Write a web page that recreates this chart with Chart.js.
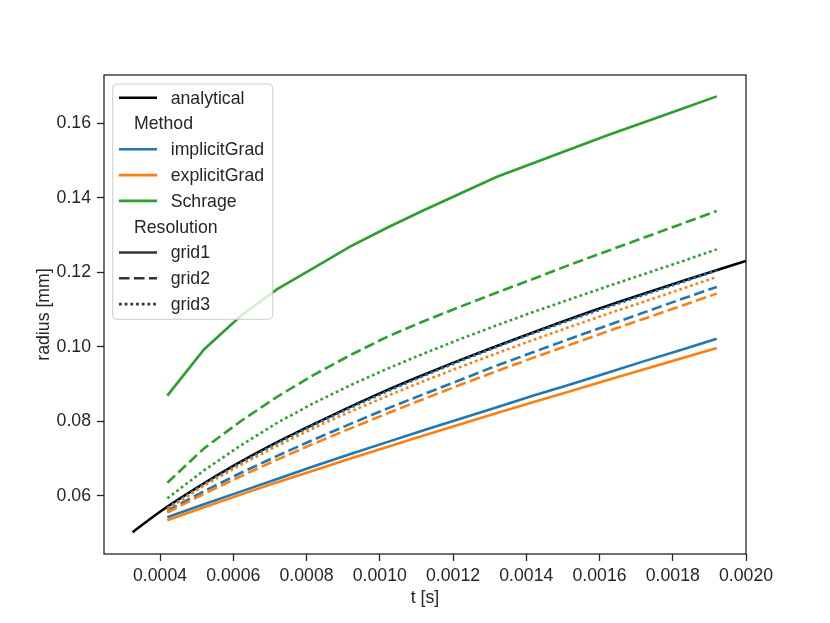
<!DOCTYPE html>
<html>
<head>
<meta charset="utf-8">
<script src="https://cdn.jsdelivr.net/npm/chart.js@4"></script>
<style>
  body { margin: 0; background: #fff; }
  canvas { display: block; }
</style>
</head>
<body>
<canvas id="chart" width="830" height="623"></canvas>
<script>
// time samples of the simulations [s]
var tSim = [0.00042, 0.00052, 0.00062, 0.00072, 0.00082, 0.00092, 0.00102, 0.00112,
            0.00122, 0.00132, 0.00142, 0.00152, 0.00162, 0.00172, 0.00182, 0.00192];

// implicitGrad
var implicitGrid1 = [0.0542, 0.0577, 0.0611, 0.0645, 0.0679, 0.0712, 0.0744, 0.0776,
                     0.0807, 0.0838, 0.0869, 0.0899, 0.0930, 0.0961, 0.0991, 0.1022];
var implicitGrid2 = [0.0560, 0.0612, 0.0661, 0.0707, 0.0751, 0.0793, 0.0834, 0.0873,
                     0.0911, 0.0950, 0.0986, 0.1022, 0.1057, 0.1092, 0.1127, 0.1161];
var implicitGrid3 = [0.0567, 0.0631, 0.0688, 0.0741, 0.0790, 0.0836, 0.0880, 0.0922,
                     0.0962, 0.1000, 0.1037, 0.1072, 0.1106, 0.1139, 0.1172, 0.1205];
// explicitGrad
var explicitGrid1 = [0.0534, 0.0569, 0.0603, 0.0636, 0.0668, 0.0700, 0.0731, 0.0762,
                     0.0792, 0.0822, 0.0852, 0.0881, 0.0910, 0.0939, 0.0968, 0.0997];
var explicitGrid2 = [0.0555, 0.0605, 0.0652, 0.0697, 0.0740, 0.0781, 0.0821, 0.0860,
                     0.0898, 0.0935, 0.0971, 0.1006, 0.1041, 0.1075, 0.1109, 0.1143];
var explicitGrid3 = [0.0564, 0.0627, 0.0683, 0.0734, 0.0782, 0.0826, 0.0868, 0.0908,
                     0.0946, 0.0983, 0.1019, 0.1054, 0.1088, 0.1121, 0.1154, 0.1188];
// Schrage
var schrageGrid1 = [0.0869, 0.0993, 0.1083, 0.1155, 0.1212, 0.1270, 0.1320, 0.1367,
                    0.1412, 0.1457, 0.1494, 0.1531, 0.1568, 0.1603, 0.1638, 0.1673];
var schrageGrid2 = [0.0635, 0.0727, 0.0800, 0.0866, 0.0925, 0.0978, 0.1027, 0.1069,
                    0.1108, 0.1146, 0.1183, 0.1221, 0.1257, 0.1293, 0.1329, 0.1365];
var schrageGrid3 = [0.0593, 0.0668, 0.0735, 0.0796, 0.0849, 0.0897, 0.0941, 0.0982,
                    0.1021, 0.1058, 0.1094, 0.1128, 0.1162, 0.1195, 0.1228, 0.1262];

// analytical solution
var tAnalytic = [0.000325, 0.0004, 0.0005, 0.0006, 0.0007, 0.0008, 0.0009, 0.0010, 0.0011,
                 0.0012, 0.0013, 0.0014, 0.0015, 0.0016, 0.0017, 0.0018, 0.0019, 0.0020];
var rAnalytic = [0.0502, 0.0557, 0.0621, 0.0680, 0.0734, 0.0783, 0.0830, 0.0875, 0.0917,
                 0.0957, 0.0995, 0.1032, 0.1068, 0.1103, 0.1136, 0.1168, 0.1200, 0.1231];

var xTicks = [0.0004, 0.0006, 0.0008, 0.0010, 0.0012, 0.0014, 0.0016, 0.0018, 0.0020];
var yTicks = [0.06, 0.08, 0.10, 0.12, 0.14, 0.16];

var methods = ['implicitGrad', 'explicitGrad', 'Schrage'];
var resolutions = ['grid1', 'grid2', 'grid3'];

var BLUE = '#1f77b4', ORANGE = '#ff7f0e', GREEN = '#2ca02c', INK = '#262626';
var FONT = '"Liberation Sans", Arial, Helvetica, sans-serif';
var methodColors = [BLUE, ORANGE, GREEN];
var dashes = [[], [10.5, 4.5], [2.7, 3]];

function pts(xs, ys) {
    return xs.map(function (x, i) { return { x: x, y: ys[i] }; });
}

var simData = [
    [implicitGrid1, implicitGrid2, implicitGrid3],
    [explicitGrid1, explicitGrid2, explicitGrid3],
    [schrageGrid1, schrageGrid2, schrageGrid3]
];

var datasets = [];
// first dataset ends on top, so push in reverse draw order
for (var m = methods.length - 1; m >= 0; m--) {
    for (var r = resolutions.length - 1; r >= 0; r--) {
        datasets.push({
            label: methods[m] + ' ' + resolutions[r],
            data: pts(tSim, simData[m][r]),
            borderColor: methodColors[m],
            borderWidth: 2.6,
            borderDash: dashes[r],
            borderCapStyle: 'butt',
            pointRadius: 0,
            fill: false,
            tension: 0
        });
    }
}
datasets.push({
    label: 'analytical',
    data: pts(tAnalytic, rAnalytic),
    borderColor: '#000000',
    borderWidth: 2.6,
    pointRadius: 0,
    fill: false,
    cubicInterpolationMode: 'monotone'
});

// legend rows, seaborn style
var legendRows = [
    { text: 'analytical', color: '#000000', dash: [] },
    { text: 'Method', title: true },
    { text: 'implicitGrad', color: BLUE, dash: [] },
    { text: 'explicitGrad', color: ORANGE, dash: [] },
    { text: 'Schrage', color: GREEN, dash: [] },
    { text: 'Resolution', title: true },
    { text: 'grid1', color: '#333333', dash: [] },
    { text: 'grid2', color: '#333333', dash: dashes[1] },
    { text: 'grid3', color: '#333333', dash: dashes[2] }
];

function roundRect(ctx, x, y, w, h, rad) {
    ctx.beginPath();
    ctx.moveTo(x + rad, y);
    ctx.lineTo(x + w - rad, y);
    ctx.arcTo(x + w, y, x + w, y + rad, rad);
    ctx.lineTo(x + w, y + h - rad);
    ctx.arcTo(x + w, y + h, x + w - rad, y + h, rad);
    ctx.lineTo(x + rad, y + h);
    ctx.arcTo(x, y + h, x, y + h - rad, rad);
    ctx.lineTo(x, y + rad);
    ctx.arcTo(x, y, x + rad, y, rad);
    ctx.closePath();
}

var framePlugin = {
    id: 'frame',
    afterDatasetsDraw: function (chart) {
        var ctx = chart.ctx, a = chart.chartArea;
        ctx.save();
        // spines
        ctx.strokeStyle = INK;
        ctx.lineWidth = 1.3;
        ctx.strokeRect(a.left, a.top, a.right - a.left, a.bottom - a.top);

        // legend
        var bx = 112.7, by = 84, bw = 160, bh = 235.3;
        roundRect(ctx, bx, by, bw, bh, 4);
        ctx.fillStyle = 'rgba(255,255,255,0.8)';
        ctx.fill();
        ctx.strokeStyle = '#cccccc';
        ctx.lineWidth = 1;
        ctx.stroke();

        ctx.font = '17.7px ' + FONT;
        ctx.textBaseline = 'middle';
        ctx.textAlign = 'left';
        legendRows.forEach(function (row, i) {
            var y = 97.7 + i * 25.8;
            if (row.title) {
                ctx.fillStyle = INK;
                ctx.fillText(row.text, 134, y + 1);
                return;
            }
            ctx.beginPath();
            ctx.setLineDash(row.dash);
            ctx.lineCap = 'butt';
            ctx.strokeStyle = row.color;
            ctx.lineWidth = 2.6;
            ctx.moveTo(119, y);
            ctx.lineTo(157, y);
            ctx.stroke();
            ctx.setLineDash([]);
            ctx.fillStyle = INK;
            ctx.fillText(row.text, 170.7, y + 1);
        });
        ctx.restore();
    }
};

var chart = new Chart(document.getElementById('chart'), {
    type: 'line',
    data: { datasets: datasets },
    options: {
        responsive: false,
        devicePixelRatio: 1,
        animation: false,
        layout: { padding: { left: 0, top: 75, right: 84, bottom: 14 } },
        plugins: {
            legend: { display: false },
            tooltip: { enabled: false }
        },
        scales: {
            x: {
                type: 'linear',
                min: 0.000247,
                max: 0.0020,
                afterBuildTicks: function (scale) {
                    scale.ticks = xTicks.map(function (v) { return { value: v }; });
                },
                afterFit: function (scale) { scale.height = 55; },
                border: { display: false },
                grid: {
                    drawOnChartArea: false,
                    drawTicks: true,
                    tickLength: 7,
                    tickWidth: 1.3,
                    tickColor: INK
                },
                ticks: {
                    color: INK,
                    padding: 4,
                    maxRotation: 0,
                    autoSkip: false,
                    font: { family: FONT, size: 17.7 },
                    callback: function (v) { return Number(v).toFixed(4); }
                },
                title: {
                    display: true,
                    text: 't [s]',
                    color: INK,
                    padding: 0,
                    font: { family: FONT, size: 17.7 }
                }
            },
            y: {
                type: 'linear',
                min: 0.04434,
                max: 0.17305,
                afterBuildTicks: function (scale) {
                    scale.ticks = yTicks.map(function (v) { return { value: v }; });
                },
                afterFit: function (scale) { scale.width = 104; },
                border: { display: false },
                grid: {
                    drawOnChartArea: false,
                    drawTicks: true,
                    tickLength: 7,
                    tickWidth: 1.3,
                    tickColor: INK
                },
                ticks: {
                    color: INK,
                    padding: 6,
                    autoSkip: false,
                    font: { family: FONT, size: 17.7 },
                    callback: function (v) { return Number(v).toFixed(2); }
                },
                title: {
                    display: true,
                    text: 'radius [mm]',
                    color: INK,
                    padding: { top: 33, bottom: 0 },
                    font: { family: FONT, size: 17.7 }
                }
            }
        }
    },
    plugins: [framePlugin]
});
</script>
</body>
</html>
